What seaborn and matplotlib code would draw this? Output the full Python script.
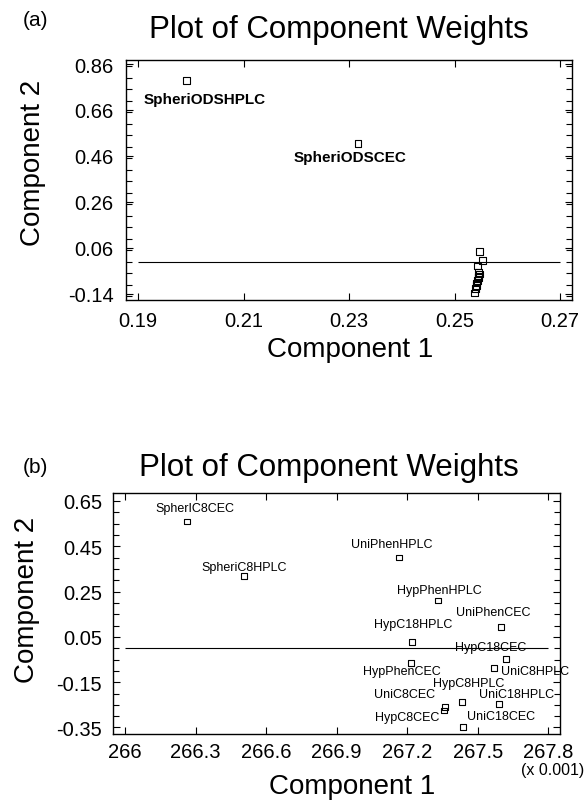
import numpy as np
import pandas as pd
import matplotlib
matplotlib.use("Agg")
import matplotlib.pyplot as plt
from matplotlib.ticker import MultipleLocator
import seaborn as sns

# ---- data: panel (a) ----
a_names = ["SpheriODSHPLC", "SpheriODSCEC"] + [""] * 12
a_comp1 = [0.1992, 0.2317,
           0.2548, 0.2553, 0.2543, 0.2546, 0.2547, 0.2545,
           0.2546, 0.2543, 0.2542, 0.2541, 0.2540, 0.2538]
a_comp2 = [0.787, 0.515,
           0.045, 0.006, -0.018, -0.045, -0.053, -0.062,
           -0.070, -0.083, -0.092, -0.104, -0.116, -0.136]
a_xticks = [0.19, 0.21, 0.23, 0.25, 0.27]
a_yticks = [-0.14, 0.06, 0.26, 0.46, 0.66, 0.86]

# ---- data: panel (b), component 1 in units of 0.001 ----
b_names = ["SpherIC8CEC", "SpheriC8HPLC", "UniPhenHPLC", "HypPhenHPLC",
           "UniPhenCEC", "HypC18HPLC", "HypC18CEC", "HypPhenCEC",
           "UniC8HPLC", "HypC8HPLC", "UniC8CEC", "HypC8CEC",
           "UniC18HPLC", "UniC18CEC"]
b_comp1 = [266.265, 266.507, 267.166, 267.330, 267.598, 267.219, 267.620,
           267.216, 267.570, 267.432, 267.361, 267.358, 267.592, 267.436]
b_comp2 = [0.560, 0.319, 0.400, 0.211, 0.094, 0.029, -0.047,
           -0.064, -0.088, -0.238, -0.259, -0.275, -0.245, -0.348]
b_xticks = [266, 266.3, 266.6, 266.9, 267.2, 267.5, 267.8]
b_yticks = [-0.35, -0.15, 0.05, 0.25, 0.45, 0.65]

# label placement (offset in pixels from the marker, ha)
a_label_pos = {"SpheriODSHPLC": (18, -18, "center"),
               "SpheriODSCEC": (-8, -14, "center")}
b_label_pos = {"SpherIC8CEC": (8, 13, "center"), "SpheriC8HPLC": (0, 9, "center"),
               "UniPhenHPLC": (-7, 14, "center"), "HypPhenHPLC": (2, 10, "center"),
               "UniPhenCEC": (-8, 15, "center"), "HypC18HPLC": (2, 18, "center"),
               "HypC18CEC": (-15, 12, "center"), "HypPhenCEC": (-9, -8, "center"),
               "UniC8HPLC": (7, -3, "left"), "HypC8HPLC": (7, 19, "center"),
               "UniC8CEC": (-40, 13, "center"), "HypC8CEC": (-37, -6, "center"),
               "UniC18HPLC": (17, 10, "center"), "UniC18CEC": (38, 11, "center")}

sns.set_style("ticks")
plt.rcParams["font.family"] = ["Liberation Sans", "DejaVu Sans"]
plt.rcParams["text.color"] = "black"
plt.rcParams["xtick.color"] = "black"
plt.rcParams["ytick.color"] = "black"
plt.rcParams["axes.labelcolor"] = "black"

W, H = 585, 804
fig = plt.figure(figsize=(W / 100, H / 100), dpi=100)


def box(l, t, r, b):
    return [l / W, 1 - b / H, (r - l) / W, (b - t) / H]


ax_a = fig.add_axes(box(126, 61, 572, 300.5))
ax_b = fig.add_axes(box(113.3, 493.5, 560, 734.5))

df_a = pd.DataFrame({"name": a_names, "c1": a_comp1, "c2": a_comp2})
df_b = pd.DataFrame({"name": b_names, "c1": b_comp1, "c2": b_comp2})

sns.scatterplot(data=df_a, x="c1", y="c2", ax=ax_a, marker="s", s=24,
                facecolor="none", edgecolor="black", linewidth=0.8, zorder=3)
sns.scatterplot(data=df_b, x="c1", y="c2", ax=ax_b, marker="s", s=17,
                facecolor="none", edgecolor="black", linewidth=0.8, zorder=3)

ax_a.hlines(0, a_xticks[0], a_xticks[-1], color="black", lw=0.8)
ax_b.hlines(0, b_xticks[0], b_xticks[-1], color="black", lw=0.8)

ax_a.set_xlim(0.18767, 0.27228)
ax_a.set_ylim(-0.164, 0.8774)
ax_b.set_xlim(265.95, 267.85)
ax_b.set_ylim(-0.3765, 0.6875)

for ax, xt, yt, ypad, xpad in [(ax_a, a_xticks, a_yticks, 9, 8),
                               (ax_b, b_xticks, b_yticks, 8, 6)]:
    ax.set_xticks(xt)
    ax.set_yticks(yt)
    ax.yaxis.set_minor_locator(MultipleLocator(0.05))
    ax.tick_params(which="both", direction="in", top=True, right=True,
                   width=0.8, color="black", labelcolor="black")
    ax.tick_params(which="major", length=5, labelsize=14.5)
    ax.tick_params(which="minor", length=4)
    ax.tick_params(axis="y", pad=ypad)
    ax.tick_params(axis="x", pad=xpad)
    for s in ax.spines.values():
        s.set_linewidth(1.0)
        s.set_color("black")
    ax.set_xlabel("")
    ax.set_ylabel("")

ax_a.set_xticklabels(["0.19", "0.21", "0.23", "0.25", "0.27"])
ax_a.set_yticklabels(["-0.14", "0.06", "0.26", "0.46", "0.66", "0.86"])
ax_b.set_xticklabels(["266", "266.3", "266.6", "266.9", "267.2", "267.5", "267.8"])
ax_b.set_yticklabels(["-0.35", "-0.15", "0.05", "0.25", "0.45", "0.65"])

for name, x, y in zip(a_names, a_comp1, a_comp2):
    if name in a_label_pos:
        dx, dy, ha = a_label_pos[name]
        ax_a.annotate(name, (x, y), xytext=(dx * 0.72, dy * 0.72),
                      textcoords="offset points", ha=ha, va="center",
                      fontsize=11, fontweight="bold", color="black")

for name, x, y in zip(b_names, b_comp1, b_comp2):
    dx, dy, ha = b_label_pos[name]
    ax_b.annotate(name, (x, y), xytext=(dx * 0.72, dy * 0.72),
                  textcoords="offset points", ha=ha, va="center", fontsize=9,
                  color="black")

# titles, panel letters, axis labels
fig.text(339 / W, 1 - 30 / H, "Plot of Component Weights", ha="center", va="center", fontsize=22.5)
fig.text(329 / W, 1 - 468 / H, "Plot of Component Weights", ha="center", va="center", fontsize=22.5)
fig.text(35 / W, 1 - 21 / H, "(a)", ha="center", va="center", fontsize=15)
fig.text(35 / W, 1 - 468 / H, "(b)", ha="center", va="center", fontsize=15)
fig.text(350 / W, 1 - 350 / H, "Component 1", ha="center", va="center", fontsize=20)
fig.text(352 / W, 1 - 787 / H, "Component 1", ha="center", va="center", fontsize=20)
fig.text(33 / W, 1 - 163 / H, "Component 2", ha="center", va="center", fontsize=20, rotation=90)
fig.text(27 / W, 1 - 600 / H, "Component 2", ha="center", va="center", fontsize=20, rotation=90)
fig.text(584 / W, 1 - 771 / H, "(x 0.001)", ha="right", va="center", fontsize=11.5)

fig.savefig("out.png", dpi=100)
